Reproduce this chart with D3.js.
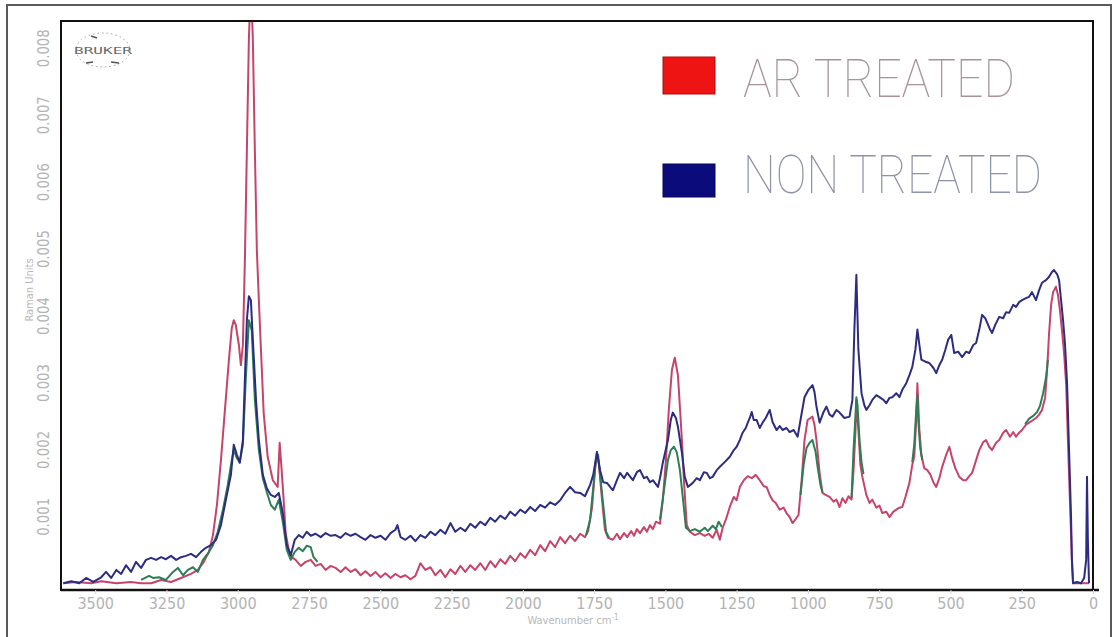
<!DOCTYPE html>
<html>
<head>
<meta charset="utf-8">
<script src="https://cdn.jsdelivr.net/npm/d3@7"></script>
<style>
  html, body { margin: 0; background: #fff; }
  svg { display: block; }
</style>
</head>
<body>
<svg id="chart" width="1118" height="637"></svg>
<script>
// axis ticks
const xTicks = [3500, 3250, 3000, 2750, 2500, 2250, 2000, 1750, 1500, 1250, 1000, 750, 500, 250, 0];
const yTicks = [0.001, 0.002, 0.003, 0.004, 0.005, 0.006, 0.007, 0.008];
const legendLabels = ["AR TREATED", "NON TREATED"];

// [wavenumber cm-1, Raman units]
const arTreated = [
  [3612,0.00000],[3567,0.00002],[3514,0.00000],[3479,0.00003],[3426,0.00000],[3374,0.00002],[3339,0.00000],[3304,0.00000],
  [3269,0.00005],[3234,0.00002],[3199,0.00008],[3164,0.00014],[3140,0.00020],[3119,0.00032],[3101,0.00047],[3087,0.00072],
  [3073,0.00117],[3059,0.00184],[3045,0.00259],[3031,0.00334],[3021,0.00381],[3014,0.00393],[3007,0.00386],[2996,0.00356],
  [2989,0.00326],[2982,0.00356],[2975,0.00483],[2968,0.00647],[2961,0.00812],[2954,0.00900],[2947,0.00812],[2940,0.00647],
  [2933,0.00498],[2926,0.00423],[2919,0.00353],[2909,0.00254],[2895,0.00189],[2877,0.00154],[2860,0.00144],[2853,0.00210],
  [2846,0.00169],[2839,0.00125],[2832,0.00075],[2821,0.00050],[2811,0.00039],[2797,0.00035],[2779,0.00026],[2762,0.00032],
  [2744,0.00035],[2727,0.00026],[2709,0.00029],[2692,0.00020],[2674,0.00026],[2657,0.00023],[2639,0.00017],[2622,0.00024],
  [2604,0.00017],[2587,0.00021],[2569,0.00012],[2552,0.00018],[2534,0.00011],[2517,0.00017],[2499,0.00009],[2482,0.00015],
  [2464,0.00008],[2447,0.00014],[2429,0.00009],[2412,0.00012],[2394,0.00006],[2377,0.00011],[2359,0.00030],[2342,0.00020],
  [2324,0.00024],[2307,0.00012],[2289,0.00020],[2272,0.00009],[2254,0.00021],[2237,0.00014],[2219,0.00026],[2202,0.00017],
  [2184,0.00027],[2167,0.00020],[2149,0.00030],[2132,0.00020],[2114,0.00033],[2097,0.00024],[2079,0.00036],[2062,0.00029],
  [2044,0.00041],[2027,0.00033],[2009,0.00045],[1992,0.00038],[1974,0.00050],[1957,0.00042],[1939,0.00057],[1922,0.00048],
  [1904,0.00063],[1887,0.00054],[1869,0.00069],[1852,0.00060],[1834,0.00071],[1817,0.00063],[1799,0.00074],[1782,0.00069],
  [1771,0.00078],[1757,0.00114],[1747,0.00169],[1740,0.00196],[1733,0.00177],[1722,0.00124],[1712,0.00080],[1701,0.00068],
  [1684,0.00065],[1670,0.00074],[1659,0.00066],[1645,0.00075],[1634,0.00069],[1620,0.00078],[1610,0.00071],[1600,0.00081],
  [1589,0.00075],[1575,0.00084],[1565,0.00077],[1554,0.00087],[1544,0.00081],[1533,0.00092],[1519,0.00089],[1509,0.00124],
  [1498,0.00184],[1488,0.00259],[1477,0.00319],[1467,0.00337],[1456,0.00311],[1449,0.00263],[1442,0.00214],[1435,0.00154],
  [1425,0.00087],[1414,0.00077],[1397,0.00072],[1379,0.00075],[1362,0.00071],[1348,0.00074],[1334,0.00068],[1320,0.00080],
  [1309,0.00065],[1299,0.00083],[1288,0.00095],[1274,0.00114],[1260,0.00129],[1250,0.00124],[1239,0.00144],[1225,0.00154],
  [1211,0.00160],[1197,0.00157],[1183,0.00162],[1169,0.00154],[1155,0.00145],[1145,0.00144],[1134,0.00132],[1124,0.00124],
  [1113,0.00120],[1099,0.00110],[1085,0.00113],[1075,0.00105],[1064,0.00099],[1054,0.00090],[1043,0.00096],[1033,0.00102],
  [1022,0.00154],[1012,0.00214],[1001,0.00244],[991,0.00247],[984,0.00249],[977,0.00237],[970,0.00214],[959,0.00165],
  [949,0.00135],[938,0.00132],[924,0.00129],[910,0.00122],[900,0.00125],[889,0.00114],[879,0.00127],[868,0.00120],
  [858,0.00130],[847,0.00125],[840,0.00169],[833,0.00229],[830,0.00274],[823,0.00229],[816,0.00177],[809,0.00159],
  [795,0.00132],[784,0.00120],[774,0.00125],[760,0.00113],[749,0.00116],[739,0.00105],[725,0.00107],[714,0.00099],
  [700,0.00107],[690,0.00110],[679,0.00113],[669,0.00114],[658,0.00129],[644,0.00150],[634,0.00177],[627,0.00189],
  [620,0.00244],[616,0.00299],[609,0.00229],[602,0.00192],[592,0.00172],[581,0.00169],[570,0.00162],[560,0.00151],
  [550,0.00144],[539,0.00157],[529,0.00174],[515,0.00192],[504,0.00204],[494,0.00187],[483,0.00172],[469,0.00159],
  [455,0.00154],[445,0.00154],[434,0.00160],[424,0.00165],[410,0.00184],[399,0.00199],[385,0.00211],[375,0.00214],
  [364,0.00204],[354,0.00199],[340,0.00210],[329,0.00214],[315,0.00225],[305,0.00229],[291,0.00219],[280,0.00226],
  [270,0.00219],[259,0.00225],[249,0.00229],[235,0.00237],[224,0.00240],[210,0.00244],[200,0.00247],[189,0.00252],
  [179,0.00259],[168,0.00277],[161,0.00319],[154,0.00374],[147,0.00416],[140,0.00435],[130,0.00443],[123,0.00431],
  [116,0.00408],[108,0.00374],[101,0.00341],[94,0.00296],[88,0.00214],[81,0.00124],[74,0.00035],[70,0.00000],
  [42,0.00000],[14,0.00000]
];

const nonTreated = [
  [3612,0.00000],[3584,0.00003],[3556,0.00000],[3532,0.00008],[3507,0.00002],[3479,0.00009],[3462,0.00017],[3444,0.00008],
  [3426,0.00020],[3409,0.00014],[3392,0.00027],[3374,0.00017],[3357,0.00032],[3339,0.00023],[3322,0.00035],[3304,0.00038],
  [3286,0.00035],[3269,0.00039],[3252,0.00036],[3234,0.00041],[3216,0.00035],[3199,0.00039],[3182,0.00041],[3164,0.00044],
  [3146,0.00039],[3129,0.00047],[3112,0.00053],[3094,0.00057],[3076,0.00065],[3059,0.00087],[3042,0.00124],[3024,0.00162],
  [3014,0.00207],[3003,0.00192],[2993,0.00180],[2982,0.00214],[2975,0.00304],[2968,0.00393],[2961,0.00429],[2954,0.00423],
  [2947,0.00364],[2936,0.00274],[2926,0.00214],[2912,0.00162],[2898,0.00142],[2884,0.00132],[2870,0.00129],[2856,0.00135],
  [2842,0.00105],[2828,0.00057],[2814,0.00042],[2800,0.00065],[2786,0.00072],[2772,0.00068],[2758,0.00077],[2744,0.00071],
  [2727,0.00074],[2709,0.00069],[2692,0.00075],[2674,0.00071],[2657,0.00072],[2639,0.00068],[2622,0.00075],[2604,0.00071],
  [2587,0.00074],[2569,0.00069],[2552,0.00065],[2534,0.00072],[2517,0.00068],[2499,0.00071],[2482,0.00065],[2464,0.00075],
  [2447,0.00080],[2440,0.00087],[2429,0.00069],[2412,0.00065],[2394,0.00071],[2377,0.00063],[2359,0.00072],[2342,0.00068],
  [2324,0.00077],[2307,0.00072],[2289,0.00080],[2272,0.00074],[2254,0.00090],[2237,0.00077],[2219,0.00083],[2202,0.00078],
  [2184,0.00089],[2167,0.00083],[2149,0.00092],[2132,0.00087],[2114,0.00098],[2097,0.00092],[2079,0.00101],[2062,0.00096],
  [2044,0.00107],[2027,0.00101],[2009,0.00110],[1992,0.00105],[1974,0.00114],[1957,0.00108],[1939,0.00117],[1922,0.00113],
  [1904,0.00121],[1887,0.00117],[1869,0.00124],[1852,0.00135],[1834,0.00144],[1817,0.00136],[1799,0.00135],[1782,0.00130],
  [1764,0.00147],[1753,0.00162],[1740,0.00196],[1729,0.00169],[1718,0.00151],[1705,0.00150],[1684,0.00139],[1670,0.00154],
  [1659,0.00165],[1645,0.00157],[1634,0.00165],[1614,0.00154],[1600,0.00166],[1589,0.00169],[1575,0.00157],[1565,0.00159],
  [1554,0.00151],[1544,0.00154],[1526,0.00144],[1519,0.00157],[1509,0.00180],[1491,0.00214],[1481,0.00244],[1474,0.00255],
  [1463,0.00247],[1456,0.00234],[1442,0.00195],[1432,0.00159],[1421,0.00144],[1404,0.00150],[1390,0.00157],[1379,0.00154],
  [1365,0.00166],[1355,0.00165],[1344,0.00157],[1334,0.00159],[1320,0.00169],[1309,0.00174],[1292,0.00181],[1274,0.00189],
  [1260,0.00199],[1250,0.00204],[1239,0.00214],[1229,0.00225],[1218,0.00232],[1211,0.00240],[1204,0.00247],[1197,0.00256],
  [1190,0.00244],[1180,0.00244],[1169,0.00232],[1159,0.00240],[1148,0.00247],[1134,0.00259],[1124,0.00241],[1110,0.00229],
  [1099,0.00235],[1089,0.00229],[1075,0.00232],[1064,0.00226],[1050,0.00229],[1036,0.00219],[1026,0.00244],[1012,0.00278],
  [998,0.00289],[984,0.00296],[977,0.00286],[970,0.00264],[959,0.00240],[945,0.00256],[935,0.00264],[924,0.00252],
  [914,0.00249],[900,0.00259],[889,0.00255],[872,0.00247],[854,0.00249],[844,0.00274],[837,0.00379],[830,0.00461],
  [823,0.00349],[812,0.00284],[802,0.00266],[795,0.00259],[784,0.00266],[774,0.00274],[760,0.00281],[749,0.00278],
  [735,0.00274],[725,0.00269],[714,0.00277],[704,0.00278],[690,0.00284],[679,0.00278],[669,0.00289],[655,0.00299],
  [644,0.00311],[634,0.00323],[623,0.00349],[616,0.00379],[609,0.00356],[602,0.00334],[588,0.00331],[574,0.00329],
  [560,0.00322],[550,0.00314],[539,0.00326],[529,0.00334],[518,0.00349],[508,0.00364],[497,0.00371],[487,0.00344],
  [473,0.00346],[459,0.00338],[445,0.00346],[434,0.00344],[420,0.00356],[410,0.00359],[399,0.00379],[389,0.00401],
  [378,0.00396],[371,0.00389],[361,0.00379],[354,0.00374],[343,0.00386],[329,0.00398],[315,0.00396],[305,0.00405],
  [294,0.00404],[280,0.00416],[270,0.00413],[259,0.00420],[249,0.00423],[235,0.00426],[224,0.00428],[214,0.00435],
  [200,0.00423],[189,0.00438],[179,0.00449],[165,0.00453],[154,0.00458],[144,0.00465],[137,0.00468],[126,0.00462],
  [119,0.00453],[112,0.00423],[105,0.00393],[98,0.00356],[91,0.00299],[84,0.00199],[77,0.00099],[74,0.00035],
  [70,0.00000],[56,0.00002],[42,0.00000],[31,0.00008],[24,0.00035],[21,0.00159],[18,0.00065],[14,0.00000]
];

// third (unlabelled) trace, only visible in pieces; null = gap
const thirdTrace = [
  [3339,0.00005],[3311,0.00011],[3297,0.00008],[3276,0.00009],[3252,0.00005],[3227,0.00017],[3210,0.00023],[3192,0.00012],
  [3175,0.00020],[3157,0.00024],[3140,0.00017],[3122,0.00035],[3104,0.00045],[3087,0.00057],[3070,0.00077],[3052,0.00110],
  [3035,0.00147],[3021,0.00184],[3014,0.00199],[3003,0.00187],[2993,0.00181],[2982,0.00207],[2972,0.00304],[2961,0.00393],
  [2951,0.00378],[2940,0.00274],[2926,0.00199],[2912,0.00157],[2898,0.00136],[2884,0.00117],[2870,0.00110],[2856,0.00125],
  [2842,0.00092],[2828,0.00050],[2814,0.00035],[2800,0.00047],[2786,0.00053],[2772,0.00048],[2758,0.00056],[2744,0.00054],
  [2734,0.00039],[2720,0.00032], null,
  [1778,0.00072],[1764,0.00095],[1754,0.00139],[1743,0.00187],[1736,0.00192],[1729,0.00162],[1718,0.00117],[1708,0.00077],
  [1698,0.00068], null,
  [1519,0.00095],[1505,0.00139],[1491,0.00184],[1481,0.00199],[1470,0.00204],[1460,0.00196],[1449,0.00169],[1438,0.00125],
  [1428,0.00083],[1414,0.00078],[1397,0.00081],[1379,0.00077],[1362,0.00083],[1351,0.00078],[1334,0.00086],[1323,0.00081],
  [1313,0.00092],[1302,0.00084], null,
  [1026,0.00132],[1015,0.00177],[1005,0.00202],[994,0.00210],[984,0.00214],[973,0.00196],[966,0.00174],[956,0.00147],
  [949,0.00136], null,
  [847,0.00128],[840,0.00199],[833,0.00252],[830,0.00278],[826,0.00266],[819,0.00214],[812,0.00181],[805,0.00163], null,
  [634,0.00181],[627,0.00207],[620,0.00259],[616,0.00281],[613,0.00244],[606,0.00202],[599,0.00184], null,
  [238,0.00238],[224,0.00246],[210,0.00250],[196,0.00256],[186,0.00265],[175,0.00284],[165,0.00307],[158,0.00334]
];

const svg = d3.select("#chart");
const plot = {left: 61, top: 21, right: 1093, bottom: 590};

const x = d3.scaleLinear().domain([3620, 0]).range([plot.left, plot.right]);
const y = d3.scaleLinear().domain([-0.0001, 0.0084]).range([plot.bottom, plot.top]);

// outer border of the screenshot
svg.append("rect")
  .attr("x", 7).attr("y", 5)
  .attr("width", 1104).attr("height", 700)
  .attr("fill", "none")
  .attr("stroke", "#5a5a5a")
  .attr("stroke-width", 2);

svg.append("defs").append("clipPath").attr("id", "clip")
  .append("rect")
  .attr("x", plot.left).attr("y", plot.top)
  .attr("width", plot.right - plot.left).attr("height", plot.bottom - plot.top);

const line = d3.line()
  .defined(d => d)
  .x(d => x(d[0]))
  .y(d => y(d[1]));

const traces = svg.append("g").attr("clip-path", "url(#clip)");

traces.append("path")
  .datum(arTreated)
  .attr("d", line)
  .attr("fill", "none")
  .attr("stroke", "#c6436a")
  .attr("stroke-width", 2)
  .attr("stroke-linejoin", "round");

traces.append("path")
  .datum(thirdTrace)
  .attr("d", line)
  .attr("fill", "none")
  .attr("stroke", "#2d7d55")
  .attr("stroke-width", 2)
  .attr("stroke-linejoin", "round");

traces.append("path")
  .datum(nonTreated)
  .attr("d", line)
  .attr("fill", "none")
  .attr("stroke", "#2c2c80")
  .attr("stroke-width", 2)
  .attr("stroke-linejoin", "round");

// plot frame
svg.append("rect")
  .attr("x", plot.left).attr("y", plot.top)
  .attr("width", plot.right - plot.left).attr("height", plot.bottom - plot.top)
  .attr("fill", "none")
  .attr("stroke", "#111")
  .attr("stroke-width", 2);
svg.append("line")
  .attr("x1", plot.left).attr("x2", plot.right + 6)
  .attr("y1", plot.bottom).attr("y2", plot.bottom)
  .attr("stroke", "#111")
  .attr("stroke-width", 2.5);

const tickFont = "'Liberation Sans Narrow', 'DejaVu Sans Condensed', sans-serif";

// X axis
const xAxis = svg.append("g")
  .attr("transform", `translate(0,${plot.bottom})`)
  .call(d3.axisBottom(x).tickValues(xTicks).tickFormat(d3.format("d")).tickSize(4).tickPadding(4));
xAxis.select(".domain").remove();
xAxis.selectAll(".tick line").attr("stroke", "#d8d8d8");
xAxis.selectAll(".tick text")
  .attr("fill", "#b3b3b3")
  .style("font-family", tickFont)
  .style("font-size", "16px");

// Y axis, labels turned sideways
const yAxis = svg.append("g")
  .attr("transform", `translate(${plot.left},0)`)
  .call(d3.axisLeft(y).tickValues(yTicks).tickFormat(d3.format(".3f")).tickSize(0));
yAxis.select(".domain").remove();
yAxis.selectAll(".tick text")
  .attr("transform", "rotate(-90)")
  .attr("x", 0)
  .attr("y", -12)
  .attr("dy", "0")
  .attr("text-anchor", "middle")
  .attr("textLength", 38)
  .attr("lengthAdjust", "spacingAndGlyphs")
  .attr("fill", "#b3b3b3")
  .style("font-family", tickFont)
  .style("font-size", "15px");

// axis titles
const xTitle = svg.append("text")
  .attr("x", 573)
  .attr("y", 624)
  .attr("text-anchor", "middle")
  .attr("fill", "#b8b8b8")
  .style("font-family", tickFont)
  .style("font-size", "11px");
xTitle.append("tspan").text("Wavenumber cm");
xTitle.append("tspan").attr("dy", -4).style("font-size", "8px").text("-1");

svg.append("text")
  .attr("transform", "translate(33,290) rotate(-90)")
  .attr("text-anchor", "middle")
  .attr("fill", "#b8b8b8")
  .style("font-family", tickFont)
  .style("font-size", "11px")
  .text("Raman Units");

// Bruker logo
const logo = svg.append("g").attr("transform", "translate(103,50)");
logo.append("ellipse")
  .attr("rx", 27).attr("ry", 17)
  .attr("fill", "none")
  .attr("stroke", "#9a9a9a")
  .attr("stroke-width", 1)
  .attr("stroke-dasharray", "1.5,3");
logo.append("text")
  .attr("y", 4)
  .attr("text-anchor", "middle")
  .attr("fill", "#6a6a6a")
  .attr("textLength", 58)
  .attr("lengthAdjust", "spacingAndGlyphs")
  .style("font-family", "'DejaVu Sans Mono', monospace")
  .style("font-size", "9px")
  .text("BRUKER");
[[-12, -14, -6, -12], [-17, 13, -10, 12], [8, 12, 16, 13]].forEach(s => {
  logo.append("line")
    .attr("x1", s[0]).attr("y1", s[1]).attr("x2", s[2]).attr("y2", s[3])
    .attr("stroke", "#555").attr("stroke-width", 1.4);
});

// legend
const legendColors = ["#ee1414", "#0b0b7c"];
const legendTextColors = ["#a8939a", "#8f93a8"];
const legendBoxes = [{y: 57, h: 37}, {y: 164, h: 33}];
const legendText = [{y: 97, len: 272}, {y: 193, len: 299}];
legendLabels.forEach((label, i) => {
  svg.append("rect")
    .attr("x", 663).attr("y", legendBoxes[i].y)
    .attr("width", 52).attr("height", legendBoxes[i].h)
    .attr("fill", legendColors[i])
    .attr("stroke", d3.color(legendColors[i]).darker(1))
    .attr("stroke-width", 1);
  svg.append("text")
    .attr("x", 743)
    .attr("y", legendText[i].y)
    .attr("textLength", legendText[i].len)
    .attr("lengthAdjust", "spacingAndGlyphs")
    .attr("fill", legendTextColors[i])
    .style("font-family", "Roboto, 'DejaVu Sans', sans-serif")
    .style("font-weight", 100)
    .style("font-size", "54px")
    .text(label);
});
</script>
</body>
</html>
